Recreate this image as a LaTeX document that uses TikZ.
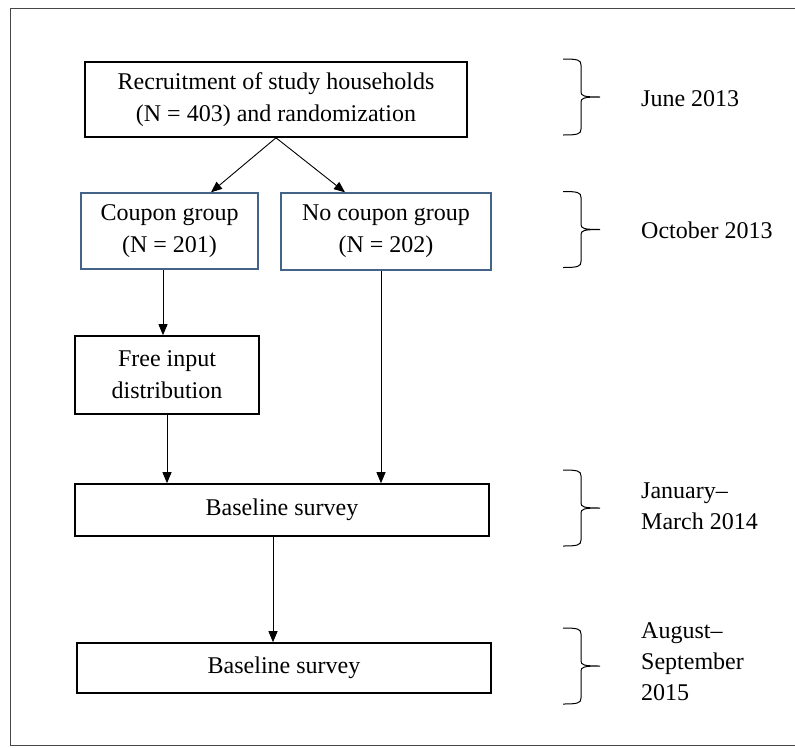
\documentclass[tikz,border=0pt]{standalone}
\usepackage{fontspec}
\setmainfont{Liberation Serif}
\usetikzlibrary{arrows.meta}
\definecolor{boxblue}{RGB}{68,100,135}
\definecolor{framegray}{RGB}{70,70,70}
\begin{document}
\begin{tikzpicture}[x=1pt,y=-1pt,
  box/.style={draw=black,line width=1.6pt,align=center,inner sep=0pt,font=\fontsize{24}{32}\selectfont},
  bluebox/.style={box,draw=boxblue,line width=1.4pt},
  arr/.style={line width=0.9pt,-{Triangle[length=11pt,width=9pt]}},
  lbl/.style={anchor=west,align=left,inner sep=0pt,font=\fontsize{24}{31}\selectfont},
  datebrace/.pic={\draw[line width=1pt]
    (-18,-38) .. controls (-3,-38) and (0,-37) .. (0,-32) -- (0,-5)
    .. controls (0,-1) and (3,0) .. (19,0)
    .. controls (3,0) and (0,1) .. (0,5) -- (0,32)
    .. controls (0,37) and (-3,38) .. (-18,38);}]
\useasboundingbox (0,0) rectangle (795,747);
\draw[line width=1pt,framegray] (795,8) -- (10,8) -- (10,745) -- (795,745);

\node[box,minimum width=382pt,minimum height=75pt] (rec) at (276,99.5)
  {Recruitment of study households\\(N = 403) and randomization};
\node[bluebox,minimum width=177pt,minimum height=76pt] (cpn) at (169.5,231)
  {Coupon group\\(N = 201)};
\node[bluebox,minimum width=210pt,minimum height=77pt] (ncp) at (386,231.5)
  {No coupon group\\(N = 202)};
\node[box,minimum width=184pt,minimum height=78pt] (free) at (167,375)
  {Free input\\distribution};
\node[box,minimum width=414pt,minimum height=52pt] (base1) at (282,510)
  {Baseline survey};
\node[box,minimum width=414pt,minimum height=50pt] (base2) at (284,668)
  {Baseline survey};

\draw[arr] (rec.south) -- ([xshift=41.5pt]cpn.north);
\draw[arr] (rec.south) -- ([xshift=-41pt]ncp.north);
\draw[arr] ([xshift=-6.5pt]cpn.south) -- ([xshift=-6.5pt]cpn.south |- free.north);
\draw[arr] ([xshift=-5pt]ncp.south) -- ([xshift=-5pt]ncp.south |- base1.north);
\draw[arr] (free.south) -- (free.south |- base1.north);
\draw[arr] ([xshift=-9pt]base1.south) -- ([xshift=-9pt]base1.south |- base2.north);

\pic at (581,97) {datebrace};
\pic at (581,229.5) {datebrace};
\pic at (581,508) {datebrace};
\pic at (581,666) {datebrace};

\node[lbl] (d1) at (641,99) {June 2013};
\node[lbl] (d2) at (641,230) {October 2013};
\node[lbl] (d3) at (641,506.5) {January–\\March 2014};
\node[lbl] (d4) at (641,662) {August–\\September\\2015};
\end{tikzpicture}
\end{document}
